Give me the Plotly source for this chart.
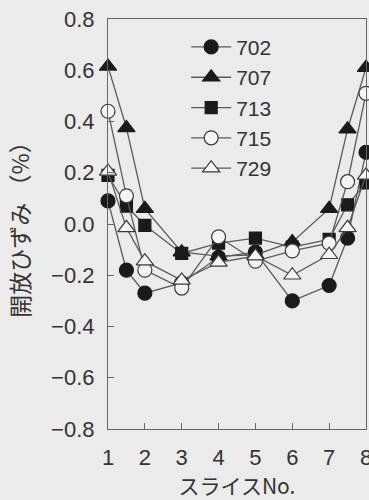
import plotly.graph_objects as go

slices = [1, 1.5, 2, 3, 4, 5, 6, 7, 7.5, 8]
x_ticks = [1, 2, 3, 4, 5, 6, 7, 8]
y_ticks = [0.8, 0.6, 0.4, 0.2, 0.0, -0.2, -0.4, -0.6, -0.8]

s702 = [0.09, -0.18, -0.27, -0.23, -0.13, -0.11, -0.30, -0.24, -0.055, 0.28]
s707 = [0.615, 0.375, 0.06, -0.11, -0.125, -0.12, -0.07, 0.06, 0.37, 0.61]
s713 = [0.19, 0.07, -0.005, -0.115, -0.075, -0.055, -0.09, -0.06, 0.075, 0.16]
s715 = [0.44, 0.11, -0.18, -0.25, -0.05, -0.145, -0.105, -0.075, 0.165, 0.51]
s729 = [0.205, -0.015, -0.145, -0.22, -0.15, -0.125, -0.20, -0.12, -0.015, 0.19]

names = ["702", "707", "713", "715", "729"]
series = [s702, s707, s713, s715, s729]
symbols = ["circle", "triangle-up", "square", "circle-open", "triangle-up-open"]

BG = "#ebebeb"
LINE = "#5a5a5a"
INK = "#1a1a1a"
TXT = "#333333"
NUM_FONT = "Liberation Sans Narrow, Liberation Sans, Arial, sans-serif"
JP_FONT = "Noto Sans CJK JP"

fig = go.Figure()
for name, ys, sym in zip(names, series, symbols):
    filled = not sym.endswith("open")
    base = sym.replace("-open", "")
    size = {"circle": 14, "triangle-up": 15, "square": 12}[base]
    fig.add_trace(go.Scatter(
        x=slices, y=ys, name=name, mode="lines+markers",
        line=dict(color=LINE, width=1.3),
        marker=dict(symbol=base, size=size,
                    color=INK if filled else "#f4f4f4",
                    line=dict(color=INK if filled else "#3a3a3a", width=1.2)),
        cliponaxis=False,
    ))

fig.update_layout(
    width=369, height=500,
    margin=dict(l=108, r=3, t=19, b=71),
    paper_bgcolor=BG, plot_bgcolor=BG,
    font=dict(family=NUM_FONT, size=22, color=TXT),
    showlegend=True,
    legend=dict(x=0.303, y=0.981, xanchor="left", yanchor="top",
                bgcolor="rgba(0,0,0,0)", borderwidth=0,
                itemwidth=40,
                font=dict(family=NUM_FONT, size=21, color=TXT)),
)
fig.update_xaxes(
    range=[1, 8], tickvals=x_ticks, ticktext=[str(v) for v in x_ticks],
    ticks="inside", ticklen=6, tickcolor="#666666", tickwidth=1,
    ticklabeloverflow="allow", ticklabelstandoff=8,
    showline=True, linecolor="#666666", linewidth=1.2, mirror=True,
    showgrid=False, zeroline=False,
    title=dict(text="スライスNo.", font=dict(family=JP_FONT, size=21, color=TXT), standoff=10),
    automargin=False,
)
fig.update_yaxes(
    range=[-0.8, 0.8], tickvals=y_ticks, ticktext=[f"{v:.1f}".replace("-", "−") for v in y_ticks],
    ticks="inside", ticklen=6, tickcolor="#666666", tickwidth=1,
    ticklabeloverflow="allow", ticklabelstandoff=8,
    showline=True, linecolor="#666666", linewidth=1.2, mirror=True,
    showgrid=False, zeroline=False,
    title=dict(text="開放ひずみ （%）", font=dict(family=JP_FONT, size=23, color=TXT)),
    automargin=False,
)

fig.write_html("out.html")
